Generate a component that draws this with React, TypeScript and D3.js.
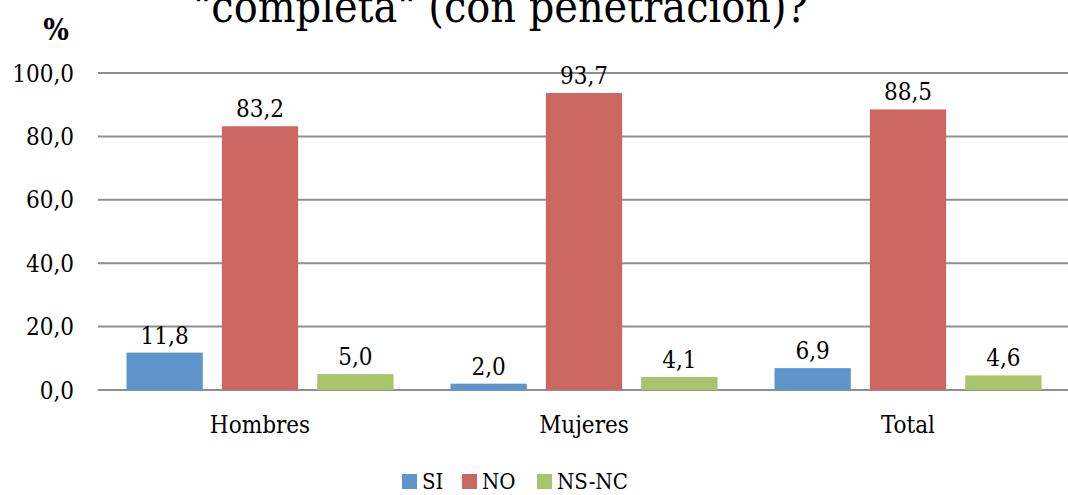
import { useEffect, useRef } from "react";
import * as d3 from "d3";

const categories = ["Hombres", "Mujeres", "Total"];
const seriesNames = ["SI", "NO", "NS-NC"];
const siValues = [11.8, 2.0, 6.9];
const noValues = [83.2, 93.7, 88.5];
const nsncValues = [5.0, 4.1, 4.6];
const yTicks = [0, 20, 40, 60, 80, 100];

const COLORS = ["#5E95CA", "#CC6660", "#A8C36B"];
const FONT = "'DejaVu Serif Condensed', 'DejaVu Serif', serif";
const W = 1068;
const H = 495;

export default function App() {
  const svgRef = useRef<SVGSVGElement>(null);

  useEffect(() => {
    if (!svgRef.current) return;
    const svg = d3.select(svgRef.current);
    svg.selectAll("*").remove();

    const series = [siValues, noValues, nsncValues];
    const left = 98;
    const right = 1068;

    const x0 = d3.scaleBand().domain(categories).range([left, left + 3 * 324]).paddingInner(0).paddingOuter(0);
    const x1 = d3
      .scaleBand()
      .domain(seriesNames)
      .range([28.5, 324 - 28.5])
      .paddingInner(0.2)
      .paddingOuter(0);
    const y = d3.scaleLinear().domain([0, 100]).range([390, 73]);

    // title (its top is cut off in the source too)
    svg
      .append("text")
      .attr("x", 193)
      .attr("y", 22)
      .attr("textLength", 615)
      .attr("lengthAdjust", "spacingAndGlyphs")
      .attr("font-family", FONT)
      .attr("font-size", 44)
      .attr("fill", "#000")
      .text("\"completa\" (con penetración)?");

    svg
      .append("text")
      .attr("x", 56)
      .attr("y", 40)
      .attr("text-anchor", "middle")
      .attr("font-family", FONT)
      .attr("font-weight", "bold")
      .attr("font-size", 30)
      .text("%");

    // gridlines
    svg
      .append("g")
      .selectAll("line")
      .data(yTicks)
      .join("line")
      .attr("x1", left)
      .attr("x2", right)
      .attr("y1", (d) => y(d))
      .attr("y2", (d) => y(d))
      .attr("stroke", "#8f8f8f")
      .attr("stroke-width", 2);

    // y tick labels
    svg
      .append("g")
      .selectAll("text")
      .data(yTicks)
      .join("text")
      .attr("x", 74)
      .attr("y", (d) => y(d) + 8.5)
      .attr("text-anchor", "end")
      .attr("font-family", FONT)
      .attr("font-size", 24)
      .text((d) => d.toFixed(1).replace(".", ","));

    // bars + value labels
    const groups = svg
      .append("g")
      .selectAll("g")
      .data(categories)
      .join("g")
      .attr("transform", (c) => `translate(${x0(c)},0)`);

    groups.each(function (c, ci) {
      const g = d3.select(this);
      seriesNames.forEach((s, si) => {
        const v = series[si][ci];
        const bx = x1(s)!;
        g.append("rect")
          .attr("x", bx)
          .attr("y", y(v))
          .attr("width", x1.bandwidth())
          .attr("height", y(0) - y(v))
          .attr("fill", COLORS[si]);
        g.append("text")
          .attr("x", bx + x1.bandwidth() / 2)
          .attr("y", y(v) - 9)
          .attr("text-anchor", "middle")
          .attr("font-family", FONT)
          .attr("font-size", 24)
          .text(v.toFixed(1).replace(".", ","));
      });
    });

    // category labels
    svg
      .append("g")
      .selectAll("text")
      .data(categories)
      .join("text")
      .attr("x", (c) => x0(c)! + x0.bandwidth() / 2)
      .attr("y", 433)
      .attr("text-anchor", "middle")
      .attr("font-family", FONT)
      .attr("font-size", 24)
      .text((c) => c);

    // legend
    const legendX = [402, 462, 537];
    const legend = svg
      .append("g")
      .selectAll("g")
      .data(seriesNames)
      .join("g")
      .attr("transform", (_, i) => `translate(${legendX[i]},0)`);
    legend
      .append("rect")
      .attr("x", 0)
      .attr("y", 474)
      .attr("width", 15)
      .attr("height", 15)
      .attr("fill", (_, i) => COLORS[i]);
    legend
      .append("text")
      .attr("x", 20)
      .attr("y", 489)
      .attr("font-family", FONT)
      .attr("font-size", 22)
      .text((d) => d);
  }, []);

  return (
    <svg
      ref={svgRef}
      width={W}
      height={H}
      style={{ position: "absolute", left: 0, top: 0, background: "#fff" }}
    />
  );
}
